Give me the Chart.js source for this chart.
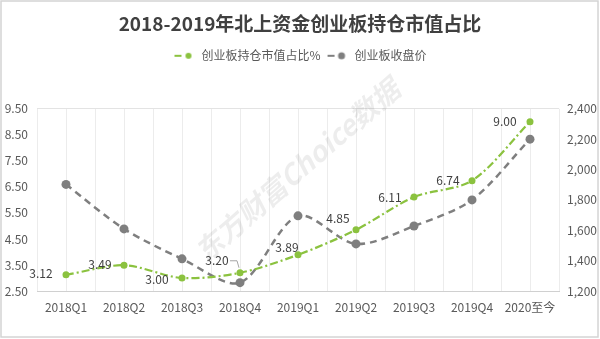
<!DOCTYPE html>
<html>
<head>
<meta charset="utf-8">
<script src="https://cdn.jsdelivr.net/npm/chart.js@4"></script>
<style>
html, body { margin: 0; padding: 0; background: #fff; }
#wrap { width: 600px; height: 339px; }
</style>
</head>
<body>
<div id="wrap"><canvas id="chart" width="600" height="339"></canvas></div>
<script>
// data
const categories = ['2018Q1', '2018Q2', '2018Q3', '2018Q4', '2019Q1', '2019Q2', '2019Q3', '2019Q4', '2020至今'];
const holdingRatio = [3.12, 3.49, 3.00, 3.20, 3.89, 4.85, 6.11, 6.74, 9.00];
const gemClose = [1902, 1609, 1412, 1255, 1695, 1510, 1628, 1800, 2200];
const leftTicks = [2.5, 3.5, 4.5, 5.5, 6.5, 7.5, 8.5, 9.5];
const rightTicks = [1200, 1400, 1600, 1800, 2000, 2200, 2400];

// where each value label sits relative to its point (dx, dy, leader line)
const labelOffsets = [[-25, -1], [-24, -1], [-25, 1], [-23, -12, true], [-11, -7], [-18, -11], [-24, 0], [-24, 0], [-25, 0]];

const GREEN = '#8BC23F';
const GREY = '#7F7F7F';
const FONT = '"Noto Sans CJK SC", "Noto Sans", sans-serif';

function legendMarker(color, r) {
    const c = document.createElement('canvas');
    c.width = 22; c.height = 10;
    const g = c.getContext('2d');
    g.strokeStyle = color; g.lineWidth = 2;
    g.beginPath(); g.moveTo(1, 5); g.lineTo(8, 5); g.stroke();
    g.fillStyle = color;
    g.beginPath(); g.arc(15, 5, r, 0, Math.PI * 2); g.fill();
    return c;
}
const markers = [legendMarker(GREEN, 3), legendMarker(GREY, 3.5)];

// push the plot down below the legend
const legendSpace = {
    id: 'legendSpace',
    beforeInit(chart) {
        const fit = chart.legend.fit;
        chart.legend.fit = function () {
            fit.bind(chart.legend)();
            this.height += 37;
        };
    }
};

const watermark = {
    id: 'watermark',
    beforeDatasetsDraw(chart) {
        const ctx = chart.ctx;
        ctx.save();
        ctx.translate(297, 170);
        ctx.rotate(-41 * Math.PI / 180);
        ctx.font = 'italic bold 28px ' + FONT;
        ctx.fillStyle = 'rgba(0,0,0,0.07)';
        ctx.textAlign = 'center';
        ctx.textBaseline = 'middle';
        ctx.fillText('东方财富Choice数据', 0, 0);
        ctx.restore();
    }
};

const valueLabels = {
    id: 'valueLabels',
    afterDatasetsDraw(chart) {
        const ctx = chart.ctx;
        const meta = chart.getDatasetMeta(0);
        ctx.save();
        ctx.font = '12px ' + FONT;
        ctx.fillStyle = '#404040';
        ctx.textAlign = 'center';
        ctx.textBaseline = 'middle';
        meta.data.forEach((pt, i) => {
            const [dx, dy, leader] = labelOffsets[i];
            const lx = pt.x + dx, ly = pt.y + dy;
            ctx.fillText(holdingRatio[i].toFixed(2), lx, ly);
            if (leader) {
                ctx.strokeStyle = '#A6A6A6';
                ctx.lineWidth = 1;
                ctx.beginPath();
                ctx.moveTo(lx + 13, ly);
                ctx.lineTo(pt.x - 3, ly);
                ctx.lineTo(pt.x - 1, pt.y - 5);
                ctx.stroke();
            }
        });
        ctx.restore();
    }
};

const frame = {
    id: 'frame',
    afterDraw(chart) {
        const ctx = chart.ctx;
        ctx.save();
        ctx.strokeStyle = '#D4D4D4';
        ctx.lineWidth = 1.5;
        ctx.strokeRect(1, 1, 597, 336);
        ctx.restore();
    }
};

new Chart(document.getElementById('chart'), {
    type: 'line',
    data: {
        labels: categories,
        datasets: [{
            label: '创业板持仓市值占比%',
            data: holdingRatio,
            yAxisID: 'y',
            borderColor: GREEN,
            backgroundColor: GREEN,
            borderWidth: 2.2,
            borderDash: [8, 3, 2, 3],
            pointRadius: 3.5,
            pointBorderWidth: 0,
            tension: 0.3
        }, {
            label: '创业板收盘价',
            data: gemClose,
            yAxisID: 'y1',
            borderColor: GREY,
            backgroundColor: GREY,
            borderWidth: 2.5,
            borderDash: [7, 5],
            pointRadius: 4.5,
            pointBorderWidth: 0,
            tension: 0.3
        }]
    },
    options: {
        responsive: false,
        animation: false,
        layout: { padding: 0 },
        plugins: {
            title: {
                display: true,
                text: '2018-2019年北上资金创业板持仓市值占比',
                color: '#404040',
                font: { family: FONT, size: 19, weight: 'bold', lineHeight: 1.2 },
                padding: { top: 12, bottom: 9 }
            },
            legend: {
                display: true,
                labels: {
                    usePointStyle: true,
                    pointStyleWidth: 22,
                    padding: 6,
                    color: '#595959',
                    font: { family: FONT, size: 12 },
                    generateLabels(chart) {
                        const items = Chart.defaults.plugins.legend.labels.generateLabels(chart);
                        items.forEach((it, i) => { it.pointStyle = markers[i]; it.rotation = 0; });
                        return items;
                    }
                }
            },
            tooltip: { enabled: false }
        },
        scales: {
            x: {
                offset: true,
                grid: { offset: true, color: '#ECECEC', drawTicks: false },
                border: { color: '#D0D0D0' },
                ticks: { color: '#595959', font: { family: FONT, size: 12 }, padding: 9, maxRotation: 0 },
                afterFit(s) { s.height = 48; }
            },
            x2: {
                type: 'category',
                labels: categories,
                position: 'bottom',
                offset: true,
                grid: { offset: false, color: '#ECECEC', drawTicks: false },
                border: { display: false },
                ticks: { display: false },
                afterFit(s) { s.height = 0; }
            },
            y: {
                position: 'left',
                min: 2.5,
                max: 9.5,
                afterBuildTicks(s) { s.ticks = leftTicks.map(v => ({ value: v })); },
                afterTickToLabelConversion(s) { s.ticks.forEach(t => { t.label = t.value.toFixed(2); }); },
                grid: {
                    drawTicks: false,
                    color: c => (c.tick && c.tick.value === 9.5 ? '#E3E3E3' : 'rgba(0,0,0,0)')
                },
                border: { display: false },
                ticks: { color: '#595959', font: { family: FONT, size: 12 }, padding: 9 },
                afterFit(s) { s.width = 37; }
            },
            y1: {
                position: 'right',
                min: 1200,
                max: 2400,
                afterBuildTicks(s) { s.ticks = rightTicks.map(v => ({ value: v })); },
                afterTickToLabelConversion(s) { s.ticks.forEach(t => { t.label = t.value.toLocaleString('en-US'); }); },
                grid: { display: false, drawTicks: false },
                border: { display: false },
                ticks: { color: '#595959', font: { family: FONT, size: 12 }, padding: 8 },
                afterFit(s) { s.width = 41; }
            }
        }
    },
    plugins: [legendSpace, watermark, valueLabels, frame]
});
</script>
</body>
</html>
